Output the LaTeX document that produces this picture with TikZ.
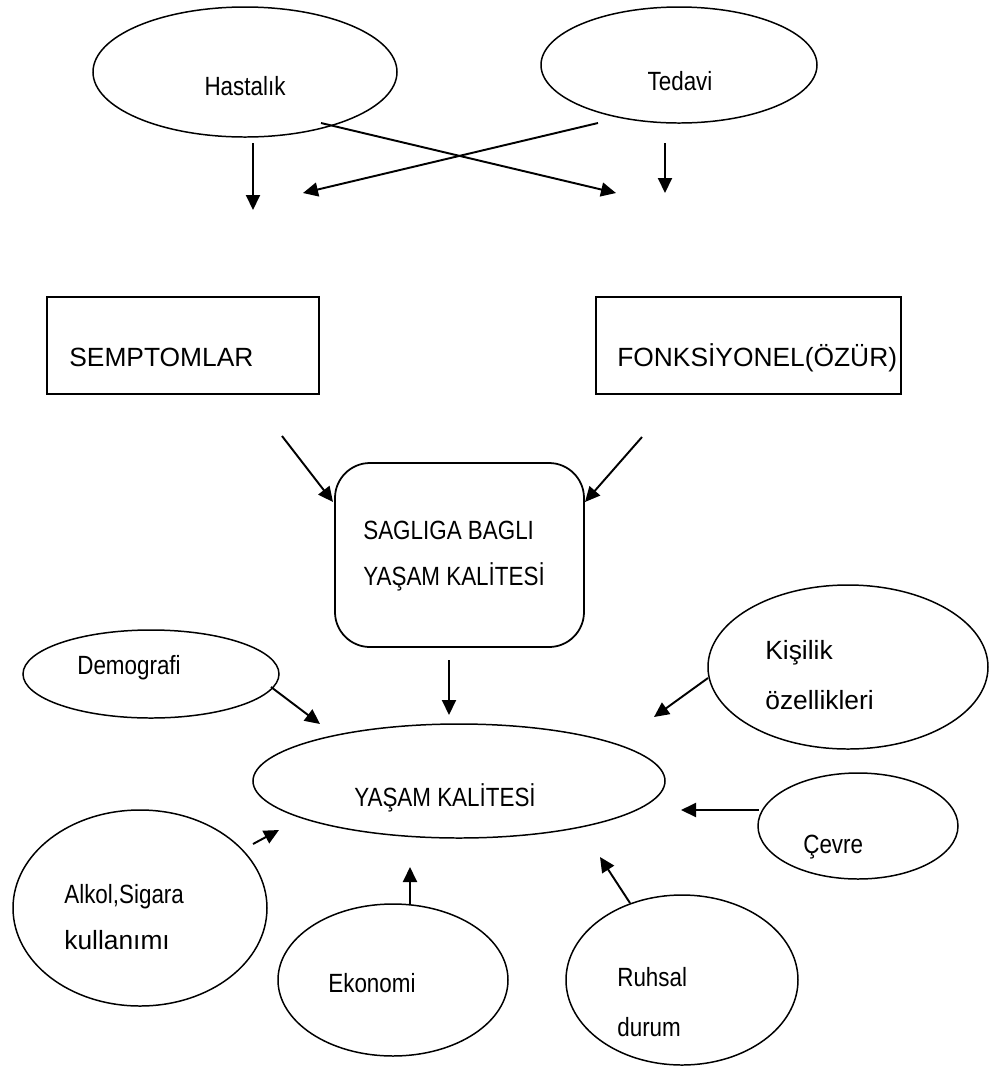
\documentclass[tikz,border=0pt]{standalone}
\usepackage{fontspec}
\setmainfont{Liberation Sans}
\newfontfamily\narrowsf{Liberation Sans}[FakeStretch=0.85]
\usetikzlibrary{shapes.geometric,arrows.meta}
\tikzset{
  oval/.style={draw,ellipse,line width=0.85pt,inner sep=0pt},
  kutu/.style={draw,rectangle,line width=1pt,inner sep=0pt},
  ok/.style={-{Triangle[length=3mm,width=2.8mm]},line width=1.1pt},
  yazi/.style={font=\narrowsf\fontsize{15}{18}\selectfont,inner sep=0pt},
  duzyazi/.style={font=\fontsize{15}{18}\selectfont,inner sep=0pt}
}
\begin{document}
\begin{tikzpicture}[x=0.2mm,y=-0.2mm]
  \useasboundingbox (0,0) rectangle (990,1073);
  % ust kisim
  \node[oval,minimum width=60.8mm,minimum height=26mm] (hastalik) at (245,72) {};
  \node[yazi] (hastalik-y) at (245,86) {Hastalık};
  \node[oval,minimum width=55.2mm,minimum height=23.2mm] (tedavi) at (679,65) {};
  \node[yazi] (tedavi-y) at (680,81) {Tedavi};
  \coordinate (h1) at (253,143);  \coordinate (h2) at (253,210);
  \coordinate (h3) at (321,123);  \coordinate (h4) at (616,193);
  \coordinate (t1) at (598,123);  \coordinate (t2) at (303,193);
  \coordinate (t3) at (665,143);  \coordinate (t4) at (665,193);
  \draw[ok] (h1) -- (h2);
  \draw[ok] (h3) -- (h4);
  \draw[ok] (t1) -- (t2);
  \draw[ok] (t3) -- (t4);
  % kutular
  \node[kutu,minimum width=54.4mm,minimum height=19.4mm] (semptom) at (183,345.5) {};
  \node[duzyazi,anchor=west] (semptom-y) at (69,357) {SEMPTOMLAR};
  \node[kutu,minimum width=61mm,minimum height=19.4mm] (fonk) at (748.5,345.5) {};
  \node[duzyazi,anchor=west] (fonk-y) at (617,358) {FONKSİYONEL(ÖZÜR)};
  \node[kutu,rounded corners=7mm,minimum width=49.8mm,minimum height=36.8mm] (sbyk) at (459.5,555) {};
  \node[yazi,anchor=west] (sbyk-y1) at (363,530) {SAGLIGA BAGLI};
  \node[yazi,anchor=west] (sbyk-y2) at (363,577) {YAŞAM KALİTESİ};
  \coordinate (s1) at (282,436);  \coordinate (s2) at (333,502);
  \coordinate (f1) at (642,437);  \coordinate (f2) at (585,502);
  \draw[ok] (s1) -- (s2);
  \draw[ok] (f1) -- (f2);
  % yasam kalitesi ve etkenler
  \node[oval,minimum width=82.4mm,minimum height=22.8mm] (yk) at (459,781) {};
  \node[yazi] (yk-y) at (445,798) {YAŞAM KALİTESİ};
  \node[oval,minimum width=51.2mm,minimum height=17.6mm] (demografi) at (151,674) {};
  \node[yazi,anchor=west] (demografi-y) at (77,668) {Demografi};
  \node[oval,minimum width=56mm,minimum height=32.8mm] (kisilik) at (848,667) {};
  \node[duzyazi,anchor=west] (kisilik-y1) at (765,653) {Kişilik};
  \node[duzyazi,anchor=west] (kisilik-y2) at (765,700) {özellikleri};
  \node[oval,minimum width=40mm,minimum height=21.2mm] (cevre) at (858,826) {};
  \node[yazi,anchor=west] (cevre-y) at (803,847) {Çevre};
  \node[oval,minimum width=50.8mm,minimum height=39.2mm] (alkol) at (140,908) {};
  \node[yazi,anchor=west] (alkol-y1) at (64,897) {Alkol,Sigara};
  \node[duzyazi,anchor=west] (alkol-y2) at (64,940) {kullanımı};
  \node[oval,minimum width=46mm,minimum height=30.4mm] (ekonomi) at (393,980) {};
  \node[yazi,anchor=west] (ekonomi-y) at (328,983) {Ekonomi};
  \node[oval,minimum width=46.4mm,minimum height=34mm] (ruhsal) at (682,980) {};
  \node[yazi,anchor=west] (ruhsal-y1) at (617,977) {Ruhsal};
  \node[yazi,anchor=west] (ruhsal-y2) at (617,1027) {durum};
  \coordinate (y1) at (449,660);  \coordinate (y2) at (449,715);
  \coordinate (d1) at (271,687);  \coordinate (d2) at (320,724);
  \coordinate (k1) at (708,678);  \coordinate (k2) at (654,717);
  \coordinate (c1) at (759,810);  \coordinate (c2) at (681,810);
  \coordinate (a1) at (253,844);  \coordinate (a2) at (279,830);
  \coordinate (e1) at (410,904);  \coordinate (e2) at (410,867);
  \coordinate (r1) at (630,903);  \coordinate (r2) at (600,857);
  \draw[ok] (y1) -- (y2);
  \draw[ok] (d1) -- (d2);
  \draw[ok] (k1) -- (k2);
  \draw[ok] (c1) -- (c2);
  \draw[ok] (a1) -- (a2);
  \draw[ok] (e1) -- (e2);
  \draw[ok] (r1) -- (r2);
\end{tikzpicture}
\end{document}
